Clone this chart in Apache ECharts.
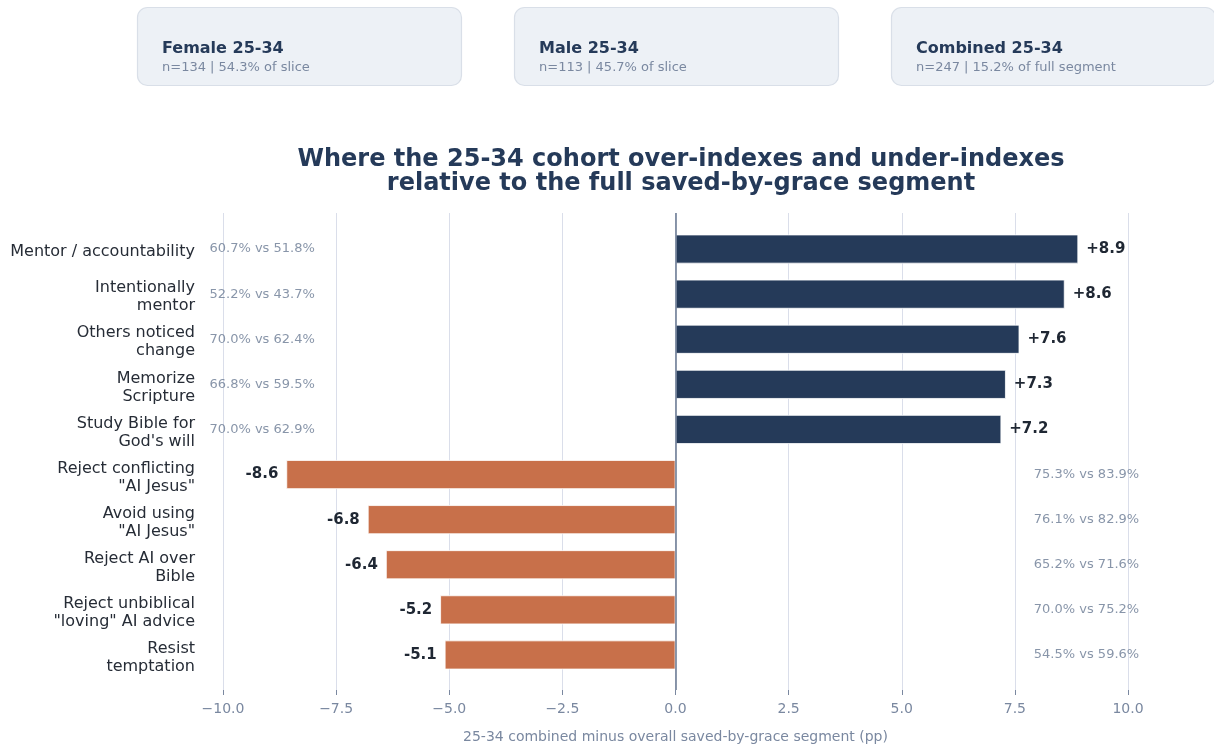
<!DOCTYPE html>
<html>
<head>
<meta charset="utf-8">
<script src="https://cdn.jsdelivr.net/npm/echarts@6/dist/echarts.min.js"></script>
<style>
  html, body { margin: 0; padding: 0; background: #ffffff; }
  #chart { width: 1214px; height: 746px; }
</style>
</head>
<body>
<div id="chart"></div>
<script>
// Items, top to bottom
const categories = [
  'Mentor / accountability',
  'Intentionally\nmentor',
  'Others noticed\nchange',
  'Memorize\nScripture',
  'Study Bible for\nGod\'s will',
  'Reject conflicting\n"AI Jesus"',
  'Avoid using\n"AI Jesus"',
  'Reject AI over\nBible',
  'Reject unbiblical\n"loving" AI advice',
  'Resist\ntemptation'
];
// 25-34 combined minus overall segment, percentage points
const diffs = [8.9, 8.6, 7.6, 7.3, 7.2, -8.6, -6.8, -6.4, -5.2, -5.1];
// 25-34 share and full-segment share, percent
const cohortPct = [60.7, 52.2, 70.0, 66.8, 70.0, 75.3, 76.1, 65.2, 70.0, 54.5];
const overallPct = [51.8, 43.7, 62.4, 59.5, 62.9, 83.9, 82.9, 71.6, 75.2, 59.6];
const xTicks = [-10, -7.5, -5, -2.5, 0, 2.5, 5, 7.5, 10];

const cards = [
  { title: 'Female 25-34', sub: 'n=134 | 54.3% of slice' },
  { title: 'Male 25-34', sub: 'n=113 | 45.7% of slice' },
  { title: 'Combined 25-34', sub: 'n=247 | 15.2% of full segment' }
];

const FONT = '"DejaVu Sans", sans-serif';
const NAVY = '#253a59';
const ORANGE = '#c8704a';
const GREY = '#7a88a0';
const NOTE = '#6a7a94';

const fmtTick = v => (v < 0 ? '\u2212' : '') + Math.abs(v).toFixed(1);
const fmtDiff = v => (v > 0 ? '+' : '') + v.toFixed(1);
const fmtNote = i => cohortPct[i].toFixed(1) + '% vs ' + overallPct[i].toFixed(1) + '%';

const chart = echarts.init(document.getElementById('chart'), null, { renderer: 'canvas' });

// summary cards across the top
const cardX = [137, 514, 891];
const graphics = [];
cards.forEach((c, i) => {
  graphics.push({
    type: 'rect',
    shape: { x: cardX[i] + 0.5, y: 7.5, width: 324, height: 78, r: 10 },
    style: { fill: '#edf1f6', stroke: '#d9dfe8', lineWidth: 1.2 }
  });
  graphics.push({
    type: 'text',
    x: cardX[i] + 25, y: 41,
    style: { text: c.title, font: 'bold 16px ' + FONT, fill: NAVY }
  });
  graphics.push({
    type: 'text',
    x: cardX[i] + 25, y: 61,
    style: { text: c.sub, font: '13px ' + FONT, fill: GREY }
  });
});

// notes: left edge for rows above zero, right side for rows below zero
const leftNotes = [];
const rightNotes = [];
diffs.forEach((d, i) => {
  if (d >= 0) leftNotes.push({ value: [-10, i], note: i });
  else rightNotes.push({ value: [7.93, i], note: i });
});

const barData = diffs.map((d) => ({
  value: d,
  itemStyle: { color: d >= 0 ? NAVY : ORANGE },
  label: { position: d >= 0 ? 'right' : 'left' }
}));

const noteLabel = (dx) => ({
  show: true, position: [dx, 0.5], align: 'left', verticalAlign: 'middle',
  formatter: p => fmtNote(p.data.note),
  color: NOTE, fontFamily: FONT, fontSize: 13
});

const gridBox = { left: 223, right: 86, containLabel: false, outerBoundsMode: 'none' };

const option = {
  backgroundColor: '#ffffff',
  animation: false,
  title: {
    text: 'Where the 25-34 cohort over-indexes and under-indexes\nrelative to the full saved-by-grace segment',
    left: 676,
    top: 143,
    textAlign: 'center',
    textStyle: {
      fontFamily: FONT, fontWeight: 'bold', fontSize: 24, lineHeight: 24, color: NAVY
    }
  },
  graphic: graphics,
  grid: [
    Object.assign({ top: 213, bottom: 56 }, gridBox),      // gridlines, ticks, zero line
    Object.assign({ top: 226.5, bottom: 68.5 }, gridBox),  // bars and notes
    Object.assign({ top: 229.5, bottom: 65.5 }, gridBox)   // category labels
  ],
  xAxis: [
    {
      gridIndex: 0, type: 'value', min: -10, max: 10, interval: 2.5,
      axisLine: { show: false },
      axisTick: { show: true, length: 5, lineStyle: { color: GREY, width: 1 } },
      axisLabel: {
        formatter: fmtTick, color: GREY, fontFamily: FONT, fontSize: 14, margin: 12
      },
      splitLine: { show: true, lineStyle: { color: '#dadeea', width: 1 } },
      name: '25-34 combined minus overall saved-by-grace segment (pp)',
      nameLocation: 'middle', nameGap: 40,
      nameTextStyle: { color: GREY, fontFamily: FONT, fontSize: 14 }
    },
    { gridIndex: 1, type: 'value', min: -10, max: 10, interval: 2.5, show: false },
    { gridIndex: 2, type: 'value', min: -10, max: 10, interval: 2.5, show: false }
  ],
  yAxis: [
    { gridIndex: 0, type: 'value', min: 0, max: 1, show: false },
    {
      gridIndex: 1, type: 'category', data: categories, inverse: true,
      axisLine: { show: false }, axisTick: { show: false },
      splitLine: { show: false }, axisLabel: { show: false }
    },
    {
      gridIndex: 2, type: 'category', data: categories, inverse: true,
      axisLine: { show: false }, axisTick: { show: false },
      splitLine: { show: false },
      axisLabel: {
        interval: 0,
        color: '#262c36', fontFamily: FONT, fontSize: 16, lineHeight: 18,
        align: 'right', margin: 28
      }
    }
  ],
  series: [
    {
      // zero reference line spanning the plot
      type: 'line', xAxisIndex: 0, yAxisIndex: 0, data: [],
      markLine: {
        silent: true, symbol: 'none',
        label: { show: false },
        lineStyle: { color: '#6f7e96', width: 1.6, type: 'solid' },
        data: [{ xAxis: 0 }]
      }
    },
    {
      type: 'bar', xAxisIndex: 1, yAxisIndex: 1,
      data: barData,
      barWidth: 29,
      itemStyle: { borderColor: '#ffffff', borderWidth: 0.8 },
      label: {
        show: true, distance: 8,
        formatter: p => fmtDiff(p.value),
        color: '#1f2733', fontFamily: FONT, fontWeight: 'bold', fontSize: 15
      },
      z: 3
    },
    {
      type: 'scatter', xAxisIndex: 1, yAxisIndex: 1,
      data: leftNotes, symbolSize: 1, clip: false,
      itemStyle: { color: 'rgba(0,0,0,0)' },
      label: noteLabel(-13),
      labelLayout: { hideOverlap: false },
      z: 4
    },
    {
      type: 'scatter', xAxisIndex: 1, yAxisIndex: 1,
      data: rightNotes, symbolSize: 1, clip: false,
      itemStyle: { color: 'rgba(0,0,0,0)' },
      label: noteLabel(0),
      labelLayout: { hideOverlap: false },
      z: 4
    }
  ]
};

chart.setOption(option);
</script>
</body>
</html>
